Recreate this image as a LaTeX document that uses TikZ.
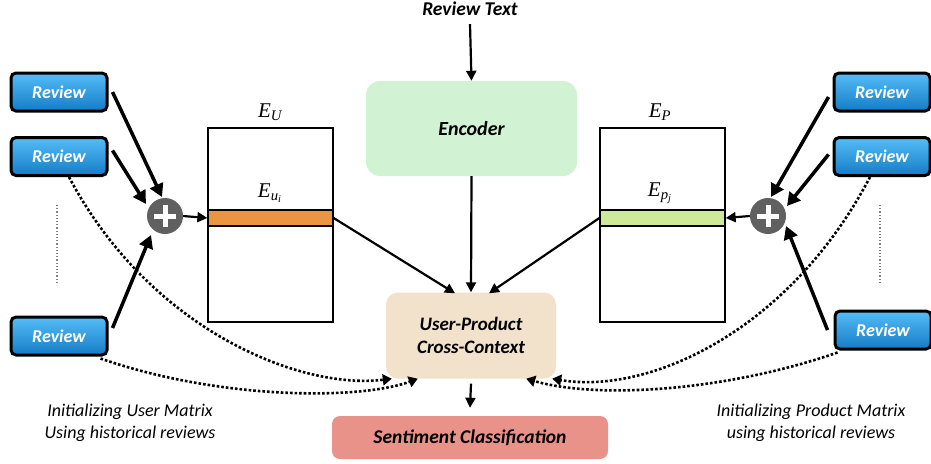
\documentclass[tikz,border=0pt]{standalone}
\usepackage{fontspec}
\setmainfont{Carlito}
\newfontfamily\timesf{Liberation Serif}
\usetikzlibrary{arrows.meta,calc}
\definecolor{revtop}{HTML}{55BDF7}
\definecolor{revbot}{HTML}{157CC6}
\definecolor{encfill}{HTML}{D1F2D3}
\definecolor{upfill}{HTML}{F2E1CB}
\definecolor{sentfill}{HTML}{E9928A}
\definecolor{ubar}{HTML}{EB9441}
\definecolor{pbar}{HTML}{CDE99A}
\definecolor{plusgray}{HTML}{606060}
\begin{document}
\begin{tikzpicture}[x=1pt,y=-1pt,
  revbox/.style={draw=black,line width=3pt,rounded corners=5pt,top color=revtop,bottom color=revbot,
    minimum width=96pt,minimum height=38pt,inner sep=0pt,text=white,font=\fontsize{18}{20}\selectfont\bfseries\itshape},
  plusnode/.style={circle,fill=plusgray,minimum size=36pt,inner sep=0pt},
  matbox/.style={draw=black,line width=1.3pt,minimum width=125pt,minimum height=194pt,inner sep=0pt},
  bigarr/.style={line width=3.5pt,-{Triangle[length=13pt,width=14pt]}},
  midarr/.style={line width=2.2pt,-{Triangle[length=10pt,width=10pt]}},
  dotarr/.style={line width=2.6pt,dotted,-{Triangle[length=9pt,width=11pt]}},
  lab/.style={font=\fontsize{18}{22}\selectfont\itshape,align=center},
  elab/.style={font=\fontsize{21}{23}\selectfont\timesf\itshape,inner sep=0pt}
]
\useasboundingbox (0,0) rectangle (931,463);
% top
\node[font=\fontsize{19.5}{21}\selectfont\bfseries\itshape,inner sep=0pt] (rt) at (470,9) {Review Text};
\node[fill=encfill,rounded corners=14pt,minimum width=211pt,minimum height=95pt,font=\fontsize{20}{22}\selectfont\bfseries\itshape] (enc) at (471.5,128.5) {Encoder};
\node[fill=upfill,rounded corners=12pt,minimum width=170pt,minimum height=86pt,align=center,font=\fontsize{19}{23}\selectfont\bfseries\itshape] (up) at (471,335.5) {User-Product\\Cross-Context};
\node[fill=sentfill,rounded corners=8pt,minimum width=276pt,minimum height=43pt,font=\fontsize{19.5}{21}\selectfont\bfseries\itshape] (sent) at (470,437.5) {Sentiment Classification};
% matrices
\node[matbox] (EU) at (270.5,225) {};
\node[draw=black,line width=1.3pt,fill=ubar,minimum width=125pt,minimum height=16pt,inner sep=0pt] (ubar) at (270.5,218) {};
\node[elab] (EUl) at (270,112) {E\textsubscript{U}};
\node[elab] (Eul) at (270,193) {E\textsubscript{u\textsubscript{i}}};
\node[matbox] (EP) at (662.5,225) {};
\node[draw=black,line width=1.3pt,fill=pbar,minimum width=125pt,minimum height=16pt,inner sep=0pt] (pbar) at (662.5,218) {};
\node[elab] (EPl) at (660,112) {E\textsubscript{P}};
\node[elab] (Epl) at (660,193) {E\textsubscript{p\textsubscript{j}}};
% plus nodes
\node[plusnode] (pl) at (165,216) {};
\node[plusnode] (pr) at (768,216) {};
\foreach \p in {pl,pr}{
  \draw[white,line width=5pt] ($(\p)+(-11,0)$) -- ($(\p)+(11,0)$);
  \draw[white,line width=5pt] ($(\p)+(0,-11)$) -- ($(\p)+(0,11)$);
}
% review boxes
\node[revbox] (l1) at (59,92) {Review};
\node[revbox] (l2) at (59,156.5) {Review};
\node[revbox] (l3) at (59,336) {Review};
\node[revbox] (r1) at (882,92) {Review};
\node[revbox] (r2) at (882,156.5) {Review};
\node[revbox] (r3) at (883,330) {Review};
% vertical dotted lines
\coordinate (ld1) at (57,205); \coordinate (ld2) at (57,285);
\coordinate (rd1) at (880,205); \coordinate (rd2) at (880,285);
\draw[gray,line width=1.2pt,dotted] (ld1) -- (ld2);
\draw[gray,line width=1.2pt,dotted] (rd1) -- (rd2);
% review -> plus arrows
\draw[bigarr] ($(l1.east)+(4,0)$) -- ($(pl)+(-3,-19)$);
\draw[bigarr] ($(l2.east)+(4,-6)$) -- ($(pl)+(-19,-12)$);
\draw[bigarr] ($(l3.east)+(4,-8)$) -- ($(pl)+(-14,19)$);
\draw[bigarr] ($(r1.west)+(-4,5)$) -- ($(pr)+(3,-19)$);
\draw[bigarr] ($(r2.west)+(-4,-2)$) -- ($(pr)+(19,-10)$);
\draw[bigarr] ($(r3.west)+(-6,0)$) -- ($(pr)+(18,10)$);
% plus -> bars
\draw[midarr] (pl.east) -- (ubar.west);
\draw[midarr] (pr.west) -- (pbar.east);
% main flow
\draw[midarr] ($(rt.south)+(0,8)$) -- (enc.north);
\draw[midarr] (enc.south) -- (up.north);
\draw[midarr] (ubar.east) -- ($(up.north)+(-16,1)$);
\draw[midarr] (pbar.west) -- ($(up.north)+(18,1)$);
\draw[midarr] ($(up.south)+(0,5)$) -- ($(sent.north)+(0,-8)$);
% dotted curves
\draw[dotarr] ($(l2.south)+(10,0)$) .. controls (150,330) and (300,390) .. ($(up.south west)+(6,0)$);
\draw[dotarr] ($(l3.south east)+(-8,2)$) .. controls (220,400) and (360,400) .. ($(up.south west)+(32,0)$);
\draw[dotarr] ($(r2.south)+(-12,0)$) .. controls (790,330) and (650,395) .. ($(up.south east)+(-4,0)$);
\draw[dotarr] ($(r3.south west)+(4,2)$) .. controls (730,390) and (600,400) .. ($(up.south east)+(-30,0)$);
% labels
\node[lab] (ll) at (130,423) {Initializing User Matrix\\Using historical reviews};
\node[lab] (rl) at (811,423) {Initializing Product Matrix\\using historical reviews};
\end{tikzpicture}
\end{document}
